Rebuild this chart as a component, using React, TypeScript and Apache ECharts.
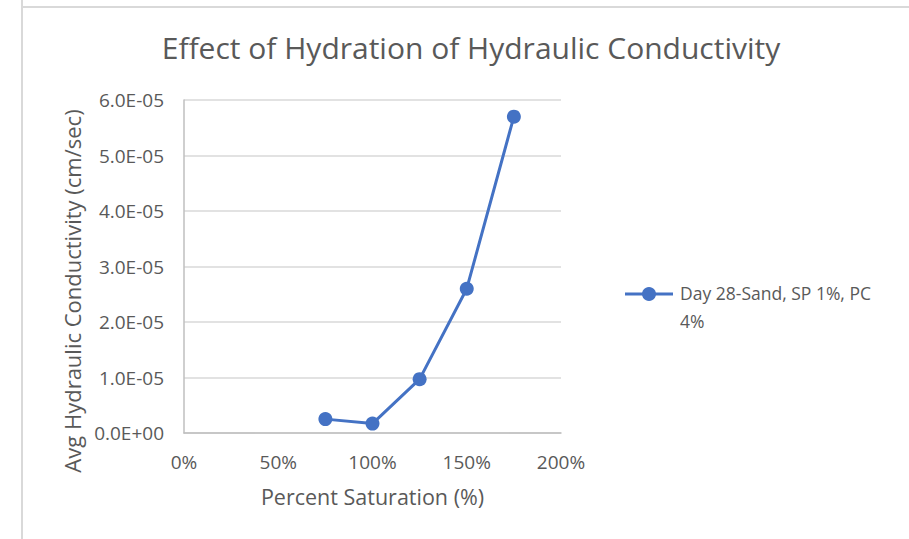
import React, { useEffect, useRef } from "react";
import * as echarts from "echarts";

const seriesName = "Day 28-Sand, SP 1%, PC 4%";
const saturation = [0.75, 1.0, 1.25, 1.5, 1.75];
const conductivity = [2.5e-6, 1.7e-6, 9.7e-6, 2.6e-5, 5.7e-5];

const FONT = "Open Sans";
const GREY = "#595959";
const BLUE = "#4472c4";

export default function App() {
  const ref = useRef<HTMLDivElement>(null);
  useEffect(() => {
    document.body.style.margin = "0";
    const chart = echarts.init(ref.current!, null, { renderer: "svg" });
    chart.setOption({
      animation: false,
      backgroundColor: "#ffffff",
      title: {
        text: "Effect of Hydration of Hydraulic Conductivity",
        left: 466,
        top: 27,
        textAlign: "center",
        textStyle: { fontFamily: FONT, fontSize: 30, fontWeight: "normal", color: GREY },
      },
      graphic: [
        { type: "line", shape: { x1: 22, y1: 0, x2: 22, y2: 539 }, style: { stroke: "#d9d9d9", lineWidth: 2 } },
        { type: "line", shape: { x1: 22, y1: 7, x2: 909, y2: 7 }, style: { stroke: "#d9d9d9", lineWidth: 2 } },
        {
          type: "text",
          x: 72,
          y: 291,
          rotation: Math.PI / 2,
          style: {
            text: "Avg Hydraulic Conductivity (cm/sec)",
            fontFamily: FONT,
            fontSize: 22,
            fill: GREY,
            align: "center",
            verticalAlign: "middle",
          },
        },
        { type: "line", shape: { x1: 625, y1: 294, x2: 673, y2: 294 }, style: { stroke: BLUE, lineWidth: 3 } },
        { type: "circle", shape: { cx: 649, cy: 294, r: 7 }, style: { fill: BLUE } },
      ],
      legend: {
        left: 618,
        top: 274,
        orient: "vertical",
        icon: "none",
        itemWidth: 52,
        itemHeight: 16,
        itemGap: 6,
        formatter: () => "Day 28-Sand, SP 1%, PC\n4%",
        textStyle: { fontFamily: FONT, fontSize: 17.5, color: GREY, lineHeight: 28 },
        data: [{ name: seriesName, icon: "none" }],
      },
      grid: { left: 184, right: 348, top: 100, bottom: 106, containLabel: false },
      xAxis: {
        type: "value",
        min: 0,
        max: 2,
        interval: 0.5,
        name: "Percent Saturation (%)",
        nameLocation: "middle",
        nameGap: 52,
        nameTextStyle: { fontFamily: FONT, fontSize: 21.5, color: GREY },
        axisLine: { show: true, lineStyle: { color: "#bfbfbf", width: 1.5 } },
        axisTick: { show: false },
        splitLine: { show: false },
        axisLabel: {
          fontFamily: FONT,
          fontSize: 19,
          color: GREY,
          margin: 19,
          formatter: (v: number) => `${Math.round(v * 100)}%`,
        },
      },
      yAxis: {
        type: "value",
        min: 0,
        max: 6e-5,
        interval: 1e-5,
        axisLine: { show: true, lineStyle: { color: "#bfbfbf", width: 1.5 } },
        axisTick: { show: false },
        splitLine: { show: true, lineStyle: { color: "#d9d9d9", width: 1.5 } },
        axisLabel: {
          fontFamily: FONT,
          fontSize: 19,
          color: GREY,
          margin: 20,
          formatter: (v: number) => {
            const s = v.toExponential(1).toUpperCase();
            const m = s.match(/^(-?[\d.]+)E([+-])(\d+)$/);
            if (!m) return s;
            return `${m[1]}E${m[2]}${m[3].padStart(2, "0")}`;
          },
        },
      },
      series: [
        {
          name: seriesName,
          type: "line",
          data: saturation.map((x, i) => [x, conductivity[i]]),
          symbol: "circle",
          symbolSize: 14,
          lineStyle: { color: BLUE, width: 3 },
          itemStyle: { color: BLUE },
        },
      ],
    });
    return () => chart.dispose();
  }, []);
  return <div ref={ref} style={{ width: 909, height: 539 }} />;
}
